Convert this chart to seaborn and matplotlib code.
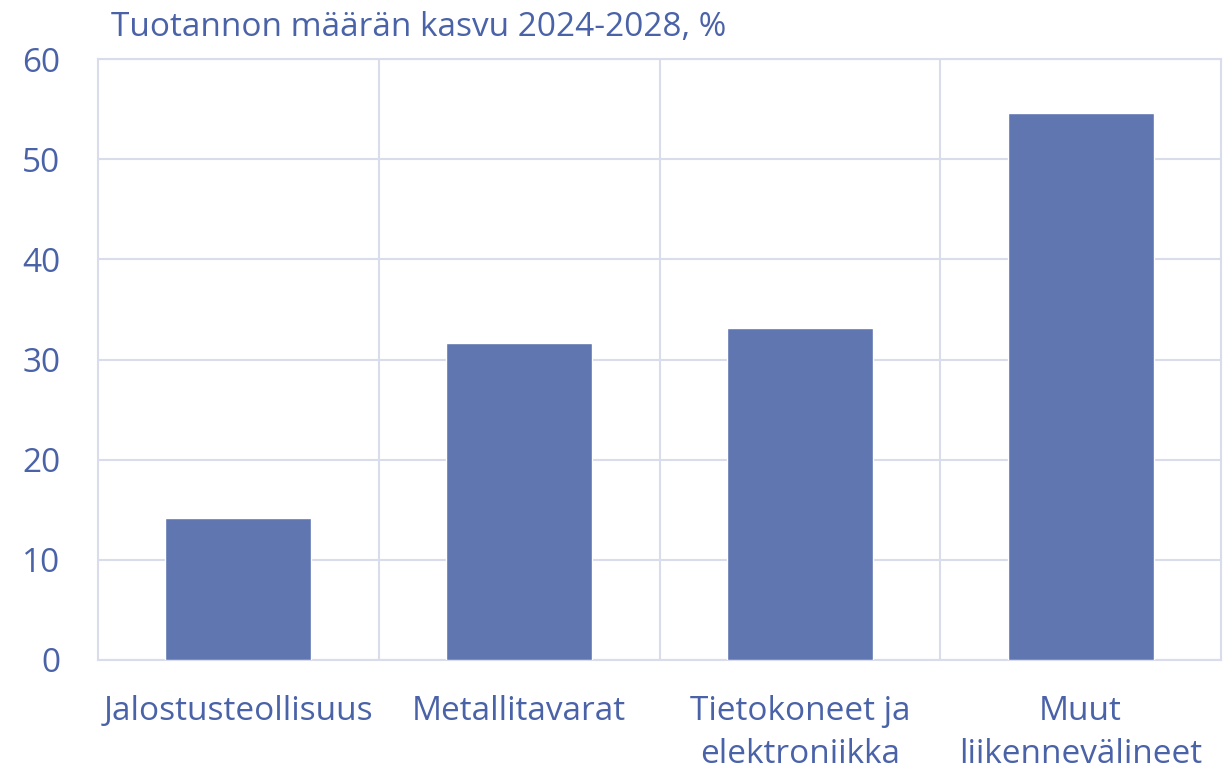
import numpy as np
import pandas as pd
import seaborn as sns
import matplotlib.pyplot as plt

# Data
categories = ['Jalostusteollisuus', 'Metallitavarat', 'Tietokoneet ja\nelektroniikka', 'Muut\nliikennevälineet']
growth = [14.2, 31.6, 33.1, 54.6]
y_ticks = [0, 10, 20, 30, 40, 50, 60]

df = pd.DataFrame({'category': categories, 'growth': growth})

sns.set_theme(style='white')
plt.rcParams['font.family'] = ['Open Sans', 'DejaVu Sans']

text_color = '#4A62A8'
grid_color = '#D9DCEB'
bar_color = '#5F76B1'

fig = plt.figure(figsize=(12.3, 7.74), dpi=100)
ax = fig.add_axes([98 / 1230, 1 - 660 / 774, (1221 - 98) / 1230, (660 - 59) / 774])

sns.barplot(data=df, x='category', y='growth', color=bar_color, width=0.52,
            saturation=1, ax=ax, zorder=3)

ax.set_xlim(-0.5, len(categories) - 0.5)
ax.set_ylim(0, 60)
ax.set_yticks(y_ticks)

# horizontal grid and vertical separators between categories
for y in y_ticks:
    ax.axhline(y, color=grid_color, lw=1.5, zorder=1)
for x in np.arange(0.5, len(categories) - 0.5, 1):
    ax.axvline(x, color=grid_color, lw=1.5, zorder=1)
for s in ax.spines.values():
    s.set_color(grid_color)
    s.set_linewidth(1.5)

ax.set_xlabel('')
ax.set_ylabel('')
ax.tick_params(axis='both', length=0, labelsize=24, colors=text_color)
ax.tick_params(axis='y', pad=27)
ax.tick_params(axis='x', pad=25)
for lab in ax.get_xticklabels():
    lab.set_linespacing(1.4)

fig.text(111 / 1230, 1 - 28 / 774, 'Tuotannon määrän kasvu 2024-2028, %',
         fontsize=24, color=text_color, va='center', ha='left')

fig.savefig('out.png', dpi=100)
